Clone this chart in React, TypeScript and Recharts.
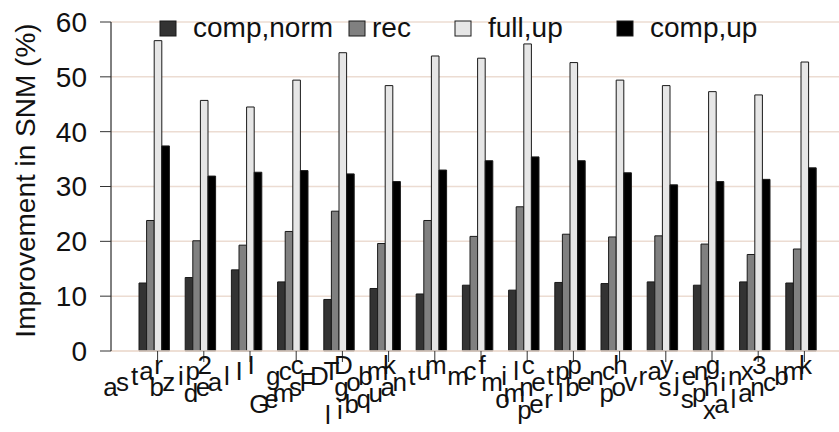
import { BarChart, Bar, XAxis, YAxis, CartesianGrid } from 'recharts';

const benchmarks = ['astar', 'bzip2', 'dealII', 'gcc', 'GemsFDTD', 'gobmk', 'libquantum', 'mcf', 'milc', 'omnetpp', 'perlbench', 'povray', 'sjeng', 'sphinx3', 'xalancbmk'];
const compNorm = [12.4, 13.4, 14.8, 12.6, 9.4, 11.4, 10.4, 12.0, 11.1, 12.5, 12.3, 12.6, 12.0, 12.6, 12.4];
const rec = [23.8, 20.1, 19.3, 21.8, 25.5, 19.6, 23.8, 20.9, 26.3, 21.3, 20.8, 21.0, 19.5, 17.6, 18.6];
const fullUp = [56.6, 45.7, 44.5, 49.4, 54.4, 48.4, 53.8, 53.4, 56.0, 52.6, 49.4, 48.4, 47.3, 46.7, 52.7];
const compUp = [37.4, 31.9, 32.6, 32.9, 32.3, 30.9, 33.0, 34.7, 35.4, 34.7, 32.5, 30.3, 30.9, 31.3, 33.4];
const yTicks = [0, 10, 20, 30, 40, 50, 60];

const series = [
    { key: 'compNorm', name: 'comp,norm', fill: '#333333' },
    { key: 'rec', name: 'rec', fill: '#808080' },
    { key: 'fullUp', name: 'full,up', fill: '#e6e6e6' },
    { key: 'compUp', name: 'comp,up', fill: '#000000' },
];

const data = benchmarks.map((name, i) => ({
    name,
    compNorm: compNorm[i],
    rec: rec[i],
    fullUp: fullUp[i],
    compUp: compUp[i],
}));

const FONT = "'Liberation Sans', Arial, sans-serif";
const GRID = '#ecdcd2';

// legend item placement (x of square, x of text)
const legendPos = [
    { sq: 160, tx: 193 },
    { sq: 349, tx: 372 },
    { sq: 455, tx: 488 },
    { sq: 617, tx: 650 },
];

// tick labels: upright letters laid along a rising line
function XTick(props: any) {
    const { x, y, payload } = props;
    const chars = String(payload.value).split('');
    const n = chars.length;
    const tx = x + 3.5;
    return (
        <g>
            <line x1={tx} y1={y} x2={tx} y2={y + 11} stroke="#333" strokeWidth={1} />
            {chars.map((c, i) => {
                const k = n - 1 - i;
                return (
                    <text
                        key={i}
                        x={tx + 1 - k * 12}
                        y={y + 23 + k * 5.6}
                        textAnchor="middle"
                        fontSize={26}
                        fontFamily={FONT}
                        fill="#111"
                    >
                        {c}
                    </text>
                );
            })}
        </g>
    );
}

function YLabel(props: any) {
    const vb = props.viewBox || { x: 0, y: 0, width: 0, height: 0 };
    const cx = 25;
    const cy = vb.y + vb.height / 2 - 6;
    return (
        <text
            x={cx}
            y={cy}
            transform={`rotate(-90, ${cx}, ${cy})`}
            textAnchor="middle"
            dominantBaseline="central"
            fontSize={28}
            fontFamily={FONT}
            fill="#111"
        >
            Improvement in SNM (%)
        </text>
    );
}

export default function App() {
    return (
        <div style={{ position: 'relative', width: 839, height: 432, background: '#fff' }}>
            <style>{`body{margin:0}`}</style>
            <BarChart
                width={839}
                height={432}
                data={data}
                margin={{ top: 22, right: 0, bottom: 0, left: 0 }}
                barGap={0}
                style={{ fontFamily: FONT }}
            >
                <CartesianGrid vertical={false} stroke={GRID} strokeWidth={1.5} />
                <XAxis
                    dataKey="name"
                    interval={0}
                    padding={{ left: 20, right: 15 }}
                    axisLine={{ stroke: GRID, strokeWidth: 1.5 }}
                    tickLine={false}
                    tickSize={0}
                    tickMargin={0}
                    height={81}
                    tick={<XTick />}
                />
                <YAxis
                    width={111}
                    domain={[0, 60]}
                    ticks={yTicks}
                    interval={0}
                    tickSize={11}
                    tickMargin={13}
                    axisLine={{ stroke: '#000', strokeWidth: 1 }}
                    tickLine={{ stroke: '#333', strokeWidth: 1 }}
                    tick={{ fontSize: 28, fill: '#111', fontFamily: FONT }}
                    label={{ value: 'Improvement in SNM (%)', content: <YLabel /> }}
                />
                {series.map((s) => (
                    <Bar
                        key={s.key}
                        dataKey={s.key}
                        name={s.name}
                        fill={s.fill}
                        stroke="#1a1a1a"
                        strokeWidth={1}
                        barSize={7.6}
                        isAnimationActive={false}
                    />
                ))}
            </BarChart>
            <svg
                width={839}
                height={60}
                style={{ position: 'absolute', left: 0, top: 0, pointerEvents: 'none' }}
            >
                {series.map((s, i) => (
                    <g key={s.key}>
                        <rect x={legendPos[i].sq} y={21} width={16} height={15} fill={s.fill} stroke="#1a1a1a" strokeWidth={1} />
                        <text x={legendPos[i].tx} y={37} fontSize={28} fontFamily={FONT} fill="#111">
                            {s.name}
                        </text>
                    </g>
                ))}
            </svg>
        </div>
    );
}
